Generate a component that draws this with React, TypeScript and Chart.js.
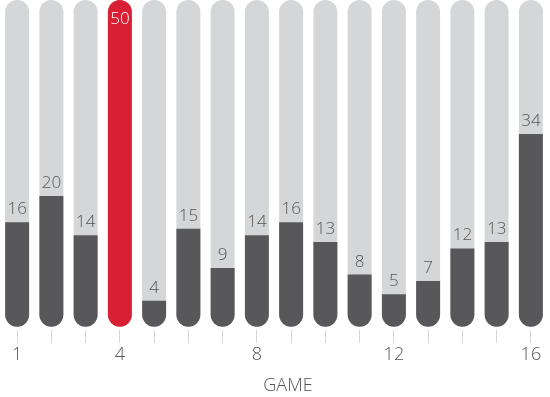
import React, { useEffect, useRef } from 'react';
import { Chart, registerables } from 'chart.js';

Chart.register(...registerables);

const games = ['1', '2', '3', '4', '5', '6', '7', '8', '9', '10', '11', '12', '13', '14', '15', '16'];
const points = [16, 20, 14, 50, 4, 15, 9, 14, 16, 13, 8, 5, 7, 12, 13, 34];
// heights as drawn in the reference (the last bar is drawn shorter than its label)
const barHeights = [16, 20, 14, 50, 4, 15, 9, 14, 16, 13, 8, 5, 7, 12, 13, 29.5];
const maxPoints = 50;
const shownTicks = ['1', '4', '8', '12', '16'];
const highlightGame = '4';
const axisTitle = 'GAME';

const FONT = "'Open Sans', sans-serif";
const LIGHT = '#d5d6d7';
const DARK = '#58585a';
const RED = '#d81f33';
const TEXT = '#555555';

const valueLabels = {
  id: 'valueLabels',
  afterDatasetsDraw(chart: any) {
    const ctx = chart.ctx;
    const meta = chart.getDatasetMeta(0);
    ctx.save();
    ctx.font = `300 17px ${FONT}`;
    ctx.textAlign = 'center';
    meta.data.forEach((bar: any, i: number) => {
      const p = bar.getProps(['x', 'y'], true);
      if (games[i] === highlightGame) {
        ctx.fillStyle = '#ffffff';
        ctx.textBaseline = 'alphabetic';
        ctx.fillText(String(points[i]), p.x, p.y + 24);
      } else {
        ctx.fillStyle = TEXT;
        ctx.textBaseline = 'alphabetic';
        ctx.fillText(String(points[i]), p.x, p.y - 8);
      }
    });
    ctx.restore();
  },
};

const axisTitlePlugin = {
  id: 'axisTitlePlugin',
  afterDraw(chart: any) {
    const ctx = chart.ctx;
    const xs = chart.scales.x;
    ctx.save();
    ctx.font = `300 18px ${FONT}`;
    ctx.fillStyle = TEXT;
    ctx.textAlign = 'center';
    ctx.textBaseline = 'alphabetic';
    const cx = (xs.left + xs.right) / 2 + 14;
    ctx.fillText(axisTitle, cx, xs.bottom - 6);
    ctx.restore();
  },
};

export default function App() {
  const ref = useRef<HTMLCanvasElement>(null);
  useEffect(() => {
    if (!ref.current) return;
    const chart = new Chart(ref.current, {
      type: 'bar',
      data: {
        labels: games,
        datasets: [
          {
            data: barHeights,
            backgroundColor: games.map((g) => (g === highlightGame ? RED : DARK)),
            borderRadius: games.map((g) =>
              g === highlightGame ? 12 : { topLeft: 0, topRight: 0, bottomLeft: 12, bottomRight: 12 }
            ) as any,
            borderSkipped: false,
            grouped: false,
            order: 0,
            categoryPercentage: 1,
            barPercentage: 0.7,
          },
          {
            data: games.map(() => maxPoints),
            backgroundColor: LIGHT,
            borderRadius: 12,
            borderSkipped: false,
            grouped: false,
            order: 1,
            categoryPercentage: 1,
            barPercentage: 0.7,
          },
        ],
      },
      options: {
        animation: false,
        responsive: true,
        maintainAspectRatio: false,
        layout: { padding: { left: 0, right: 2, top: 0, bottom: 0 } },
        plugins: { legend: { display: false }, tooltip: { enabled: false } },
        scales: {
          x: {
            grid: {
              display: true,
              drawOnChartArea: false,
              drawTicks: true,
              tickLength: 13,
              color: LIGHT,
              offset: false,
            },
            border: { display: false },
            ticks: {
              autoSkip: false,
              maxRotation: 0,
              padding: 1,
              color: TEXT,
              font: { size: 18, family: FONT, weight: '300' as any },
              callback: (_v: any, i: number) => (shownTicks.includes(games[i]) ? games[i] : ''),
            },
            title: {
              display: true,
              text: ' ',
              font: { size: 18, family: FONT },
              padding: { top: 9, bottom: 0 },
            },
          },
          y: { display: false, min: -0.45, max: maxPoints },
        },
      },
      plugins: [valueLabels, axisTitlePlugin],
    });
    return () => chart.destroy();
  }, []);
  return (
    <div style={{ position: 'fixed', left: 0, top: 0, width: 550, height: 397 }}>
      <canvas ref={ref} />
    </div>
  );
}
